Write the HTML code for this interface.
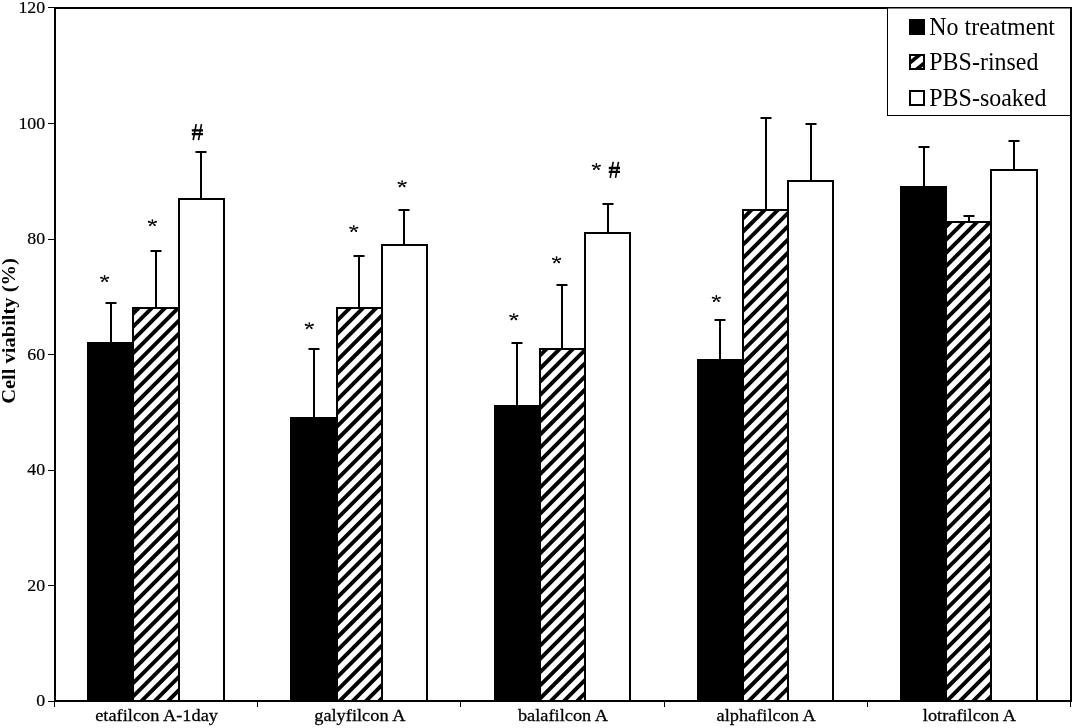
<!DOCTYPE html>
<html><head><meta charset="utf-8"><title>Cell viability chart</title>
<style>
html,body{margin:0;padding:0;background:#fff;}
body{width:1074px;height:728px;overflow:hidden;}
svg{display:block;will-change:transform;}
text{font-family:"Liberation Serif",serif;fill:#000;}
</style></head><body>
<svg width="1074" height="728" viewBox="0 0 1074 728">
<rect x="0" y="0" width="1074" height="728" fill="#fff"/>
<defs><clipPath id="c1"><rect x="133.00" y="308.00" width="46.00" height="393.00"/></clipPath><clipPath id="c2"><rect x="337.00" y="308.00" width="45.00" height="393.00"/></clipPath><clipPath id="c3"><rect x="540.00" y="349.00" width="45.00" height="352.00"/></clipPath><clipPath id="c4"><rect x="743.00" y="210.00" width="45.00" height="491.00"/></clipPath><clipPath id="c5"><rect x="946.00" y="222.00" width="45.00" height="479.00"/></clipPath><g id="ast" fill="#000"><path transform="rotate(-90.0)" d="M0 -0.3L2.70 -0.85A0.85 0.85 0 0 1 2.70 0.85L0 0.3Z"/><path transform="rotate(-14.8)" d="M0 -0.3L3.72 -1.00A1.00 1.00 0 0 1 3.72 1.00L0 0.3Z"/><path transform="rotate(194.8)" d="M0 -0.3L3.72 -1.00A1.00 1.00 0 0 1 3.72 1.00L0 0.3Z"/><path transform="rotate(45.0)" d="M0 -0.3L3.39 -1.00A1.00 1.00 0 0 1 3.39 1.00L0 0.3Z"/><path transform="rotate(135.0)" d="M0 -0.3L3.39 -1.00A1.00 1.00 0 0 1 3.39 1.00L0 0.3Z"/><circle r="0.7"/></g><g id="hsh" stroke="#000" fill="none"><path d="M-4.2 8L-1.2 -8M1.1 8L4.1 -8" stroke-width="1.6"/><path d="M-5.6 -1.8H5.6M-5.6 2.0H5.6" stroke-width="2.3"/></g></defs>
<rect x="88.00" y="343.00" width="45.00" height="358.00" fill="#000" stroke="#000" stroke-width="2"/>
<path d="M111.00 343.00V303.00M105.50 303.00H116.50" stroke="#000" stroke-width="2" fill="none"/>
<rect x="133.00" y="308.00" width="46.00" height="393.00" fill="#fff"/>
<path clip-path="url(#c1)" d="M128.00 305.42L184.00 249.42M128.00 318.62L184.00 262.62M128.00 331.82L184.00 275.82M128.00 345.02L184.00 289.02M128.00 358.22L184.00 302.22M128.00 371.42L184.00 315.42M128.00 384.62L184.00 328.62M128.00 397.82L184.00 341.82M128.00 411.02L184.00 355.02M128.00 424.22L184.00 368.22M128.00 437.42L184.00 381.42M128.00 450.62L184.00 394.62M128.00 463.82L184.00 407.82M128.00 477.02L184.00 421.02M128.00 490.22L184.00 434.22M128.00 503.42L184.00 447.42M128.00 516.62L184.00 460.62M128.00 529.82L184.00 473.82M128.00 543.02L184.00 487.02M128.00 556.22L184.00 500.22M128.00 569.42L184.00 513.42M128.00 582.62L184.00 526.62M128.00 595.82L184.00 539.82M128.00 609.02L184.00 553.02M128.00 622.22L184.00 566.22M128.00 635.42L184.00 579.42M128.00 648.62L184.00 592.62M128.00 661.82L184.00 605.82M128.00 675.02L184.00 619.02M128.00 688.22L184.00 632.22M128.00 701.42L184.00 645.42M128.00 714.62L184.00 658.62M128.00 727.82L184.00 671.82M128.00 741.02L184.00 685.02M128.00 754.22L184.00 698.22" stroke="#000" stroke-width="3.92" fill="none"/>
<rect x="133.00" y="308.00" width="46.00" height="393.00" fill="none" stroke="#000" stroke-width="2"/>
<path d="M156.00 308.00V251.00M150.50 251.00H161.50" stroke="#000" stroke-width="2" fill="none"/>
<rect x="179.00" y="199.00" width="45.00" height="502.00" fill="#fff" stroke="#000" stroke-width="2"/>
<path d="M201.00 199.00V152.00M195.50 152.00H206.50" stroke="#000" stroke-width="2" fill="none"/>
<rect x="291.00" y="418.00" width="46.00" height="283.00" fill="#000" stroke="#000" stroke-width="2"/>
<path d="M314.00 418.00V349.00M308.50 349.00H319.50" stroke="#000" stroke-width="2" fill="none"/>
<rect x="337.00" y="308.00" width="45.00" height="393.00" fill="#fff"/>
<path clip-path="url(#c2)" d="M332.00 299.42L387.00 244.42M332.00 312.62L387.00 257.62M332.00 325.82L387.00 270.82M332.00 339.02L387.00 284.02M332.00 352.22L387.00 297.22M332.00 365.42L387.00 310.42M332.00 378.62L387.00 323.62M332.00 391.82L387.00 336.82M332.00 405.02L387.00 350.02M332.00 418.22L387.00 363.22M332.00 431.42L387.00 376.42M332.00 444.62L387.00 389.62M332.00 457.82L387.00 402.82M332.00 471.02L387.00 416.02M332.00 484.22L387.00 429.22M332.00 497.42L387.00 442.42M332.00 510.62L387.00 455.62M332.00 523.82L387.00 468.82M332.00 537.02L387.00 482.02M332.00 550.22L387.00 495.22M332.00 563.42L387.00 508.42M332.00 576.62L387.00 521.62M332.00 589.82L387.00 534.82M332.00 603.02L387.00 548.02M332.00 616.22L387.00 561.22M332.00 629.42L387.00 574.42M332.00 642.62L387.00 587.62M332.00 655.82L387.00 600.82M332.00 669.02L387.00 614.02M332.00 682.22L387.00 627.22M332.00 695.42L387.00 640.42M332.00 708.62L387.00 653.62M332.00 721.82L387.00 666.82M332.00 735.02L387.00 680.02M332.00 748.22L387.00 693.22M332.00 761.42L387.00 706.42" stroke="#000" stroke-width="3.92" fill="none"/>
<rect x="337.00" y="308.00" width="45.00" height="393.00" fill="none" stroke="#000" stroke-width="2"/>
<path d="M359.00 308.00V256.00M353.50 256.00H364.50" stroke="#000" stroke-width="2" fill="none"/>
<rect x="382.00" y="245.00" width="45.00" height="456.00" fill="#fff" stroke="#000" stroke-width="2"/>
<path d="M404.00 245.00V210.00M398.50 210.00H409.50" stroke="#000" stroke-width="2" fill="none"/>
<rect x="495.00" y="406.00" width="45.00" height="295.00" fill="#000" stroke="#000" stroke-width="2"/>
<path d="M517.00 406.00V343.00M511.50 343.00H522.50" stroke="#000" stroke-width="2" fill="none"/>
<rect x="540.00" y="349.00" width="45.00" height="352.00" fill="#fff"/>
<path clip-path="url(#c3)" d="M535.00 347.22L590.00 292.22M535.00 360.42L590.00 305.42M535.00 373.62L590.00 318.62M535.00 386.82L590.00 331.82M535.00 400.02L590.00 345.02M535.00 413.22L590.00 358.22M535.00 426.42L590.00 371.42M535.00 439.62L590.00 384.62M535.00 452.82L590.00 397.82M535.00 466.02L590.00 411.02M535.00 479.22L590.00 424.22M535.00 492.42L590.00 437.42M535.00 505.62L590.00 450.62M535.00 518.82L590.00 463.82M535.00 532.02L590.00 477.02M535.00 545.22L590.00 490.22M535.00 558.42L590.00 503.42M535.00 571.62L590.00 516.62M535.00 584.82L590.00 529.82M535.00 598.02L590.00 543.02M535.00 611.22L590.00 556.22M535.00 624.42L590.00 569.42M535.00 637.62L590.00 582.62M535.00 650.82L590.00 595.82M535.00 664.02L590.00 609.02M535.00 677.22L590.00 622.22M535.00 690.42L590.00 635.42M535.00 703.62L590.00 648.62M535.00 716.82L590.00 661.82M535.00 730.02L590.00 675.02M535.00 743.22L590.00 688.22M535.00 756.42L590.00 701.42" stroke="#000" stroke-width="3.92" fill="none"/>
<rect x="540.00" y="349.00" width="45.00" height="352.00" fill="none" stroke="#000" stroke-width="2"/>
<path d="M562.00 349.00V285.00M556.50 285.00H567.50" stroke="#000" stroke-width="2" fill="none"/>
<rect x="585.00" y="233.00" width="45.00" height="468.00" fill="#fff" stroke="#000" stroke-width="2"/>
<path d="M608.00 233.00V204.00M602.50 204.00H613.50" stroke="#000" stroke-width="2" fill="none"/>
<rect x="698.00" y="360.00" width="45.00" height="341.00" fill="#000" stroke="#000" stroke-width="2"/>
<path d="M720.00 360.00V320.00M714.50 320.00H725.50" stroke="#000" stroke-width="2" fill="none"/>
<rect x="743.00" y="210.00" width="45.00" height="491.00" fill="#fff"/>
<path clip-path="url(#c4)" d="M738.00 210.22L793.00 155.22M738.00 223.42L793.00 168.42M738.00 236.62L793.00 181.62M738.00 249.82L793.00 194.82M738.00 263.02L793.00 208.02M738.00 276.22L793.00 221.22M738.00 289.42L793.00 234.42M738.00 302.62L793.00 247.62M738.00 315.82L793.00 260.82M738.00 329.02L793.00 274.02M738.00 342.22L793.00 287.22M738.00 355.42L793.00 300.42M738.00 368.62L793.00 313.62M738.00 381.82L793.00 326.82M738.00 395.02L793.00 340.02M738.00 408.22L793.00 353.22M738.00 421.42L793.00 366.42M738.00 434.62L793.00 379.62M738.00 447.82L793.00 392.82M738.00 461.02L793.00 406.02M738.00 474.22L793.00 419.22M738.00 487.42L793.00 432.42M738.00 500.62L793.00 445.62M738.00 513.82L793.00 458.82M738.00 527.02L793.00 472.02M738.00 540.22L793.00 485.22M738.00 553.42L793.00 498.42M738.00 566.62L793.00 511.62M738.00 579.82L793.00 524.82M738.00 593.02L793.00 538.02M738.00 606.22L793.00 551.22M738.00 619.42L793.00 564.42M738.00 632.62L793.00 577.62M738.00 645.82L793.00 590.82M738.00 659.02L793.00 604.02M738.00 672.22L793.00 617.22M738.00 685.42L793.00 630.42M738.00 698.62L793.00 643.62M738.00 711.82L793.00 656.82M738.00 725.02L793.00 670.02M738.00 738.22L793.00 683.22M738.00 751.42L793.00 696.42M738.00 764.62L793.00 709.62" stroke="#000" stroke-width="3.92" fill="none"/>
<rect x="743.00" y="210.00" width="45.00" height="491.00" fill="none" stroke="#000" stroke-width="2"/>
<path d="M766.00 210.00V118.00M760.50 118.00H771.50" stroke="#000" stroke-width="2" fill="none"/>
<rect x="788.00" y="181.00" width="45.00" height="520.00" fill="#fff" stroke="#000" stroke-width="2"/>
<path d="M811.00 181.00V124.00M805.50 124.00H816.50" stroke="#000" stroke-width="2" fill="none"/>
<rect x="901.00" y="187.00" width="45.00" height="514.00" fill="#000" stroke="#000" stroke-width="2"/>
<path d="M924.00 187.00V147.00M918.50 147.00H929.50" stroke="#000" stroke-width="2" fill="none"/>
<rect x="946.00" y="222.00" width="45.00" height="479.00" fill="#fff"/>
<path clip-path="url(#c5)" d="M941.00 218.42L996.00 163.42M941.00 231.62L996.00 176.62M941.00 244.82L996.00 189.82M941.00 258.02L996.00 203.02M941.00 271.22L996.00 216.22M941.00 284.42L996.00 229.42M941.00 297.62L996.00 242.62M941.00 310.82L996.00 255.82M941.00 324.02L996.00 269.02M941.00 337.22L996.00 282.22M941.00 350.42L996.00 295.42M941.00 363.62L996.00 308.62M941.00 376.82L996.00 321.82M941.00 390.02L996.00 335.02M941.00 403.22L996.00 348.22M941.00 416.42L996.00 361.42M941.00 429.62L996.00 374.62M941.00 442.82L996.00 387.82M941.00 456.02L996.00 401.02M941.00 469.22L996.00 414.22M941.00 482.42L996.00 427.42M941.00 495.62L996.00 440.62M941.00 508.82L996.00 453.82M941.00 522.02L996.00 467.02M941.00 535.22L996.00 480.22M941.00 548.42L996.00 493.42M941.00 561.62L996.00 506.62M941.00 574.82L996.00 519.82M941.00 588.02L996.00 533.02M941.00 601.22L996.00 546.22M941.00 614.42L996.00 559.42M941.00 627.62L996.00 572.62M941.00 640.82L996.00 585.82M941.00 654.02L996.00 599.02M941.00 667.22L996.00 612.22M941.00 680.42L996.00 625.42M941.00 693.62L996.00 638.62M941.00 706.82L996.00 651.82M941.00 720.02L996.00 665.02M941.00 733.22L996.00 678.22M941.00 746.42L996.00 691.42M941.00 759.62L996.00 704.62" stroke="#000" stroke-width="3.92" fill="none"/>
<rect x="946.00" y="222.00" width="45.00" height="479.00" fill="none" stroke="#000" stroke-width="2"/>
<path d="M969.00 222.00V216.00M963.50 216.00H974.50" stroke="#000" stroke-width="2" fill="none"/>
<rect x="991.00" y="170.00" width="46.00" height="531.00" fill="#fff" stroke="#000" stroke-width="2"/>
<path d="M1014.00 170.00V141.00M1008.50 141.00H1019.50" stroke="#000" stroke-width="2" fill="none"/>
<rect x="55.00" y="8.00" width="1016.00" height="693.00" fill="none" stroke="#000" stroke-width="2"/>
<path d="M48 701.50H54" stroke="#000" stroke-width="1"/>
<text transform="translate(45.20 706.20) scale(1.010 1)" font-size="17.7" text-anchor="end" stroke="#000" stroke-width="0.2">0</text>
<path d="M48 585.50H54" stroke="#000" stroke-width="1"/>
<text transform="translate(45.20 590.70) scale(1.010 1)" font-size="17.7" text-anchor="end" stroke="#000" stroke-width="0.2">20</text>
<path d="M48 470.50H54" stroke="#000" stroke-width="1"/>
<text transform="translate(45.20 475.20) scale(1.010 1)" font-size="17.7" text-anchor="end" stroke="#000" stroke-width="0.2">40</text>
<path d="M48 354.50H54" stroke="#000" stroke-width="1"/>
<text transform="translate(45.20 359.70) scale(1.010 1)" font-size="17.7" text-anchor="end" stroke="#000" stroke-width="0.2">60</text>
<path d="M48 239.50H54" stroke="#000" stroke-width="1"/>
<text transform="translate(45.20 244.20) scale(1.010 1)" font-size="17.7" text-anchor="end" stroke="#000" stroke-width="0.2">80</text>
<path d="M48 123.50H54" stroke="#000" stroke-width="1"/>
<text transform="translate(45.20 128.70) scale(1.010 1)" font-size="17.7" text-anchor="end" stroke="#000" stroke-width="0.2">100</text>
<path d="M48 7.50H54" stroke="#000" stroke-width="1"/>
<text transform="translate(45.20 13.20) scale(1.010 1)" font-size="17.7" text-anchor="end" stroke="#000" stroke-width="0.2">120</text>
<path d="M54.50 701V707" stroke="#000" stroke-width="1"/>
<path d="M257.50 701V707" stroke="#000" stroke-width="1"/>
<path d="M460.50 701V707" stroke="#000" stroke-width="1"/>
<path d="M664.50 701V707" stroke="#000" stroke-width="1"/>
<path d="M867.50 701V707" stroke="#000" stroke-width="1"/>
<path d="M1070.50 701V707" stroke="#000" stroke-width="1"/>
<text transform="translate(156.60 720.70) scale(1.113 1)" font-size="16.5" text-anchor="middle" stroke="#000" stroke-width="0.25">etafilcon A-1day</text>
<text transform="translate(359.80 720.70) scale(1.113 1)" font-size="16.5" text-anchor="middle" stroke="#000" stroke-width="0.25">galyfilcon A</text>
<text transform="translate(563.00 720.70) scale(1.113 1)" font-size="16.5" text-anchor="middle" stroke="#000" stroke-width="0.25">balafilcon A</text>
<text transform="translate(766.20 720.70) scale(1.113 1)" font-size="16.5" text-anchor="middle" stroke="#000" stroke-width="0.25">alphafilcon A</text>
<text transform="translate(969.40 720.70) scale(1.113 1)" font-size="16.5" text-anchor="middle" stroke="#000" stroke-width="0.25">lotrafilcon A</text>
<text transform="translate(14.9 331) rotate(-90) scale(1.108 1)" font-size="18.5" font-weight="bold" text-anchor="middle">Cell viabilty (%)</text>
<rect x="887.5" y="8" width="183" height="107.5" fill="#fff" stroke="#000" stroke-width="1"/>
<rect x="909" y="19" width="16" height="16" fill="#000"/>
<clipPath id="lc"><rect x="910" y="55" width="14" height="14"/></clipPath>
<rect x="910" y="55" width="14" height="14" fill="#fff" stroke="#000" stroke-width="2"/>
<path clip-path="url(#lc)" d="M906 66L928 48M906 78L928 60" stroke="#000" stroke-width="3.7"/>
<rect x="910" y="91" width="14" height="14" fill="#fff" stroke="#000" stroke-width="2"/>
<text transform="translate(929.30 34.90) scale(0.970 1)" font-size="24.7" text-anchor="start">No treatment</text>
<text transform="translate(929.30 69.60) scale(0.970 1)" font-size="24.7" text-anchor="start">PBS-rinsed</text>
<text transform="translate(929.30 105.80) scale(0.970 1)" font-size="24.7" text-anchor="start">PBS-soaked</text>
<use href="#ast" x="104.60" y="278.60"/>
<use href="#ast" x="152.40" y="222.70"/>
<use href="#hsh" x="197.40" y="132.20"/>
<use href="#ast" x="309.30" y="325.70"/>
<use href="#ast" x="353.80" y="228.60"/>
<use href="#ast" x="402.10" y="183.80"/>
<use href="#ast" x="513.85" y="316.80"/>
<use href="#ast" x="556.60" y="259.80"/>
<use href="#ast" x="596.35" y="166.60"/>
<use href="#hsh" x="614.40" y="169.80"/>
<use href="#ast" x="716.35" y="298.60"/>
</svg></body></html>
